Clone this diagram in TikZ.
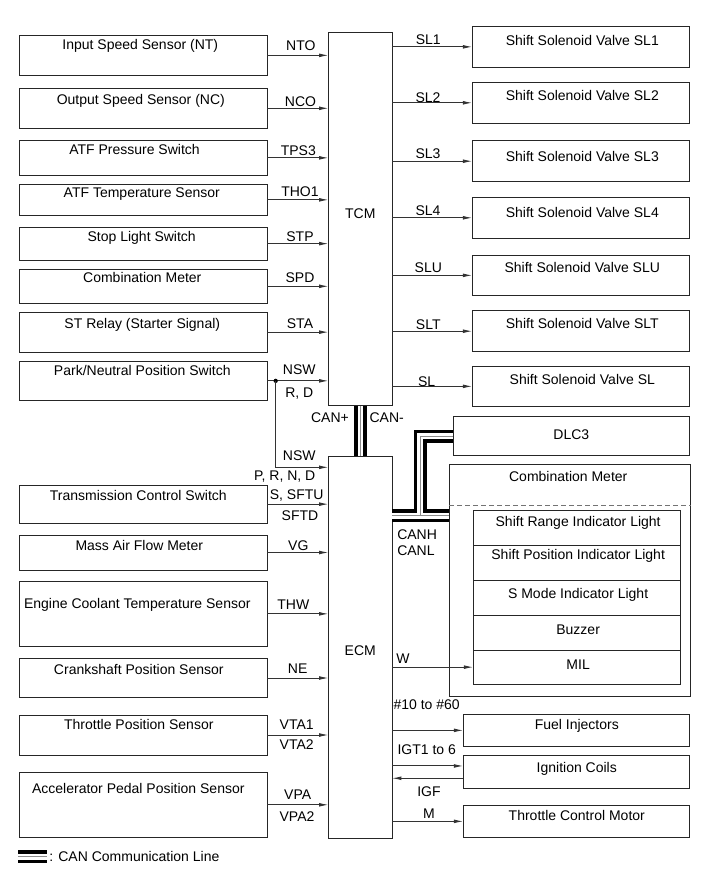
\documentclass[tikz,border=0pt]{standalone}
\usepackage{fontspec}
\setmainfont{Liberation Sans}
\usetikzlibrary{arrows.meta,calc}
\tikzset{
  box/.style={draw=black!85, line width=0.7pt, inner sep=0pt, outer sep=0pt, rectangle},
  lbl/.style={inner sep=0pt, anchor=base, yshift=-3.6pt, font=\fontsize{10.5}{12}\selectfont},
  wire/.style={draw=black!80, line width=0.7pt},
  arr/.style={wire, -{Latex[length=7pt,width=2.8pt]}},
  canblack/.style={line width=9.75pt, black, line join=miter},
  canwhite/.style={line width=4.1pt, white, line join=miter},
  cangray/.style={line width=0.6pt, black!45, line join=miter},
  cmdash/.style={draw=black!55, line width=0.7pt, dash pattern=on 3.5pt off 2.5pt},
}
% name x1 y1 x2 y2 textdx texty text
\newcommand\mybox[8]{%
  \node[box, minimum width={(#4-#2)*0.75pt}, minimum height={(#5-#3)*0.75pt}] (#1) at ({(#2+#4)/2},{(#3+#5)/2}) {};
  \node[lbl] (#1-t) at ({(#2+#4)/2+#6},#7) {#8};}
\begin{document}
\begin{tikzpicture}[x=0.75pt,y=-0.75pt]
\useasboundingbox (0,0) rectangle (713,882);
\fill[white] (0,0) rectangle (713,882);

% control units
\mybox{tcm}{328.5}{32.5}{392}{405.8}{0}{214}{TCM}
\mybox{ecm}{328.5}{456}{392}{838.5}{0}{651}{ECM}

% left inputs
\mybox{in1}{19.3}{35.7}{267.3}{75}{-3}{45}{Input Speed Sensor (NT)}
\mybox{in2}{19.3}{88.3}{267.3}{128.3}{-2.5}{100}{Output Speed Sensor (NC)}
\mybox{in3}{19.3}{140.7}{267.3}{175}{-8.8}{150}{ATF Pressure Switch}
\mybox{in4}{19.3}{184}{267.3}{215.7}{-1.5}{193}{ATF Temperature Sensor}
\mybox{in5}{19.3}{227.3}{267.3}{260}{-1.6}{236.5}{Stop Light Switch}
\mybox{in6}{19.3}{269.3}{267.3}{303.3}{-1}{277.7}{Combination Meter}
\mybox{in7}{19.3}{312.3}{267.3}{352}{-1}{323.3}{ST Relay (Starter Signal)}
\mybox{in8}{19.3}{361.7}{267.3}{400}{-1}{371}{Park/Neutral Position Switch}
\mybox{in9}{19.3}{485}{267.3}{523.3}{-5}{496}{Transmission Control Switch}
\mybox{in10}{19.3}{535}{267.3}{570}{-4}{546}{Mass Air Flow Meter}
\mybox{in11}{19.3}{581.7}{267.3}{646}{-6}{603.3}{Engine Coolant Temperature Sensor}
\mybox{in12}{19.3}{658.3}{267.3}{697.7}{-4.5}{670}{Crankshaft Position Sensor}
\mybox{in13}{19.3}{715}{267.3}{755}{-4.5}{725}{Throttle Position Sensor}
\mybox{in14}{19.3}{772.3}{267.3}{837.3}{-5}{788.3}{Accelerator Pedal Position Sensor}

% right outputs
\mybox{sl1}{472.3}{26}{689.3}{67.7}{1.5}{40.7}{Shift Solenoid Valve SL1}
\mybox{sl2}{472.3}{82.3}{689.3}{123.3}{1.5}{96}{Shift Solenoid Valve SL2}
\mybox{sl3}{472.3}{140.7}{689.3}{181.7}{1.5}{156.7}{Shift Solenoid Valve SL3}
\mybox{sl4}{472.3}{197.3}{689.3}{238.3}{1.5}{212.7}{Shift Solenoid Valve SL4}
\mybox{slu}{472.3}{255}{689.3}{295.7}{1.5}{267.3}{Shift Solenoid Valve SLU}
\mybox{slt}{472.3}{310.7}{689.3}{351.7}{1.5}{323.3}{Shift Solenoid Valve SLT}
\mybox{sl}{472.3}{366}{689.3}{406.7}{1.5}{379.3}{Shift Solenoid Valve SL}
\mybox{dlc}{453.3}{416.7}{689.3}{455.7}{0}{435}{DLC3}
\mybox{cm}{449}{464.3}{690.5}{696.7}{-1.5}{476.7}{Combination Meter}
\draw[cmdash] (cm.west |- 0,505) -- (cm.east |- 0,505);
\mybox{cm1}{473.3}{510.7}{680}{545}{1.5}{521.7}{Shift Range Indicator Light}
\mybox{cm2}{473.3}{545}{680}{580}{1.5}{555}{Shift Position Indicator Light}
\mybox{cm3}{473.3}{580}{680}{615}{1.5}{593.3}{S Mode Indicator Light}
\mybox{cm4}{473.3}{615}{680}{650}{1.5}{630}{Buzzer}
\mybox{cm5}{473.3}{650}{680}{684.3}{1.5}{665}{MIL}
\mybox{fi}{463.3}{714}{689.3}{746.7}{0.5}{725}{Fuel Injectors}
\mybox{ig}{463.3}{755}{689.3}{788.3}{0.5}{767.3}{Ignition Coils}
\mybox{tc}{463.3}{805}{689.3}{837.7}{0.5}{815.7}{Throttle Control Motor}

% TCM inputs
\foreach \n in {in1,in2,in3,in4,in5,in6,in7,in8}
  \draw[arr] (\n.east) -- (\n.east -| tcm.west);
% ECM inputs
\foreach \n in {in9,in10,in11,in12,in13,in14}
  \draw[arr] (\n.east) -- (\n.east -| ecm.west);
% TCM outputs
\foreach \n in {sl1,sl2,sl3,sl4,slu,slt,sl}
  \draw[arr] (\n.west -| tcm.east) -- (\n.west);
% NSW branch
\coordinate (nswdot) at ($(in8.east)+(8.4,0)$);
\fill[black] (nswdot) circle (1.6pt);
\draw[arr] (nswdot) |- (ecm.west |- 0,467.3);
% ECM outputs
\coordinate (igtin) at ($(ig.west)+(0,-5.7)$);
\coordinate (igfout) at ($(ig.west)+(0,6.6)$);
\draw[arr] (cm5.west -| ecm.east) -- (cm5.west);
\draw[arr] (fi.west -| ecm.east) -- (fi.west);
\draw[arr] (igtin -| ecm.east) -- (igtin);
\draw[arr] (igfout) -- (igfout -| ecm.east);
\draw[arr] (tc.west -| ecm.east) -- (tc.west);

% CAN lines
\coordinate (canj) at (420,515.8);
\coordinate (lg1) at (18.3,856.8);
\coordinate (lg2) at (46.7,856.8);
\foreach \s in {canblack,canwhite,cangray}{
  \draw[\s] (tcm.south) -- (ecm.north);
  \draw[\s] (ecm.east |- canj) -- (canj) |- (dlc.west);
  \draw[\s] (ecm.east |- canj) -- (cm.west |- canj);
  \draw[\s] (lg1) -- (lg2);
}
\node[lbl, anchor=base west] (lgt) at (49,856.7) {: CAN Communication Line};

% signal labels
\node[lbl] at (300.8,46) {NTO};
\node[lbl] at (300.5,101.7) {NCO};
\node[lbl] at (298.3,150.7) {TPS3};
\node[lbl] at (300,191.7) {THO1};
\node[lbl] at (300,236.7) {STP};
\node[lbl] at (300,277.7) {SPD};
\node[lbl] at (300,324) {STA};
\node[lbl] at (299.3,370) {NSW};
\node[lbl] at (299.3,392.3) {R, D};
\node[lbl] at (299.3,456) {NSW};
\node[lbl] at (284.7,475.7) {P, R, N, D};
\node[lbl] at (296.7,495) {S, SFTU};
\node[lbl] at (300,515.7) {SFTD};
\node[lbl] at (298.3,546) {VG};
\node[lbl] at (293.3,605) {THW};
\node[lbl] at (297.7,669) {NE};
\node[lbl] at (296.7,725) {VTA1};
\node[lbl] at (296.7,745) {VTA2};
\node[lbl] at (297.7,794.3) {VPA};
\node[lbl] at (297,816.7) {VPA2};
\node[lbl] at (428.3,40) {SL1};
\node[lbl] at (428,97.3) {SL2};
\node[lbl] at (428,153.3) {SL3};
\node[lbl] at (428,210.7) {SL4};
\node[lbl] at (428.3,267.3) {SLU};
\node[lbl] at (428.3,325) {SLT};
\node[lbl] at (426.7,381.7) {SL};
\node[lbl] at (330,417.7) {CAN+};
\node[lbl] at (386.7,417.7) {CAN-};
\node[lbl, anchor=base west] at (397,534.3) {CANH};
\node[lbl, anchor=base west] at (397,550.7) {CANL};
\node[lbl] at (403,659) {W};
\node[lbl] at (426.7,705) {\#10 to \#60};
\node[lbl] at (426.7,750) {IGT1 to 6};
\node[lbl] at (429,791.7) {IGF};
\node[lbl] at (429,814) {M};
\end{tikzpicture}
\end{document}
